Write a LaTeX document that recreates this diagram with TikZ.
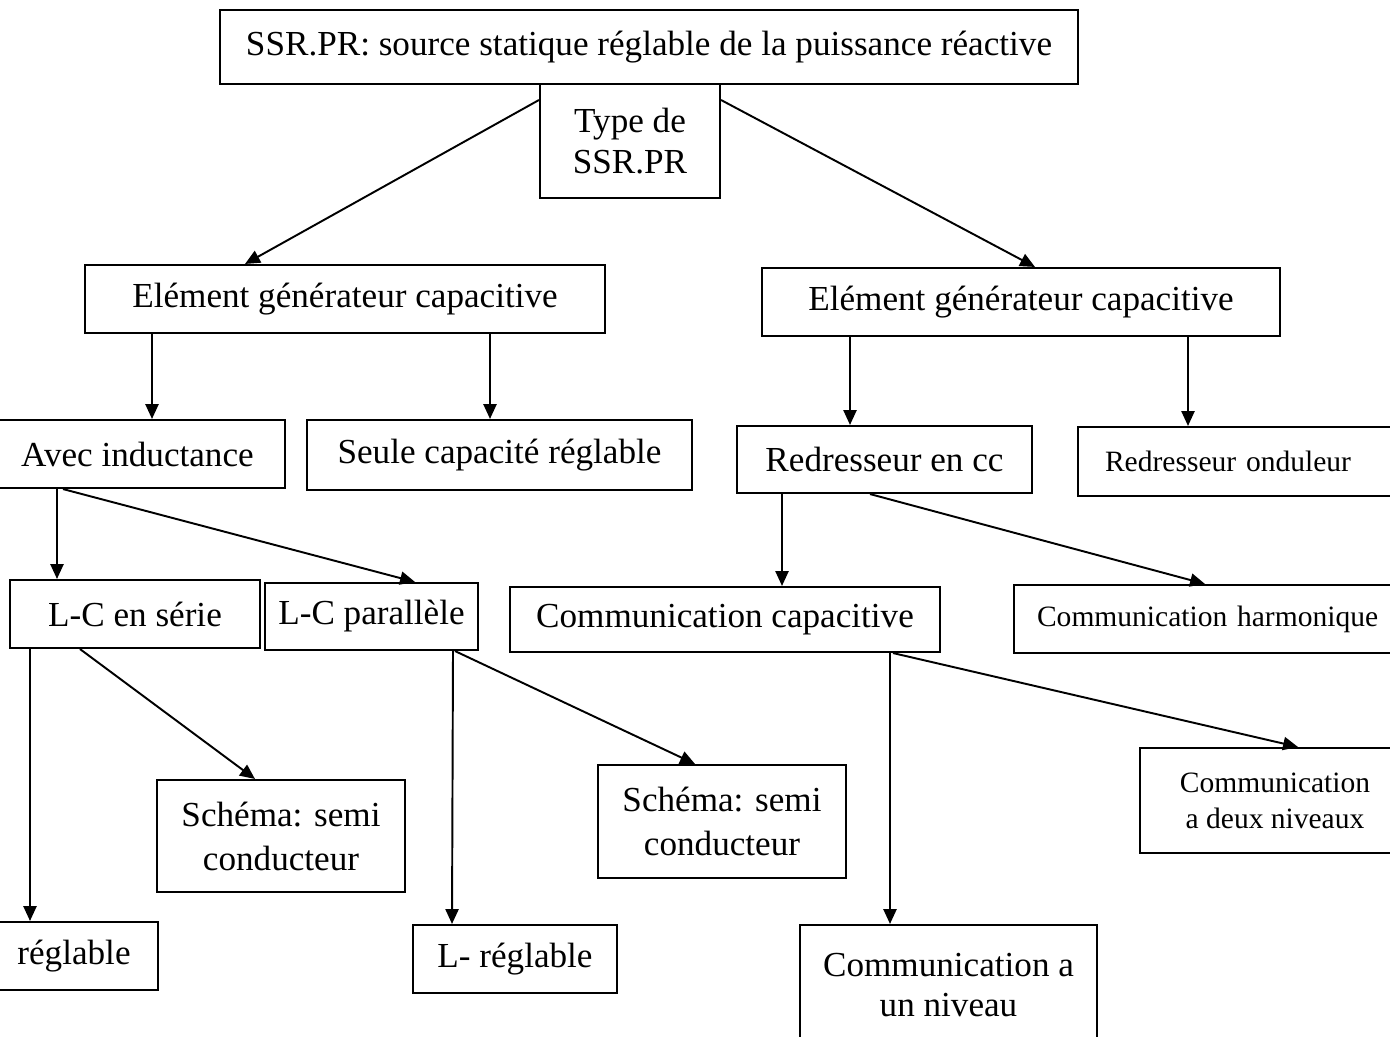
\documentclass[tikz,border=0pt]{standalone}
\usepackage{fontspec}
\setmainfont{Liberation Serif}
\usetikzlibrary{arrows.meta}
\tikzset{
  box/.style={draw, line width=1.2pt, inner sep=0pt, align=center,
    font=\fontsize{20}{23}\selectfont},
  smallbox/.style={box, font=\fontsize{16.8}{20.5}\selectfont},
  cutbox/.style={smallbox, anchor=west, align=left, text width=9cm, inner xsep=0.5cm},
  arr/.style={line width=1.1pt, -{Triangle[length=8.5pt,width=7.5pt]}}
}
\begin{document}
\begin{tikzpicture}[x=0.02cm, y=-0.02cm]
  \useasboundingbox (0,0) rectangle (1390,1036);
  \clip (0,0) rectangle (1390,1036);

  \node[box, minimum width=17.16cm, minimum height=1.48cm] (titre) at (649,47)
    {SSR.PR: source statique réglable de la puissance réactive};
  \node[box, minimum width=3.6cm, minimum height=2.28cm] (type) at (630,141)
    {Type de\\SSR.PR};

  \node[box, minimum width=10.4cm, minimum height=1.36cm] (elemG) at (345,299)
    {Elément générateur capacitive};
  \node[box, minimum width=10.36cm, minimum height=1.36cm] (elemD) at (1021,302)
    {Elément générateur capacitive};

  \node[box, minimum width=5.9cm, minimum height=1.36cm] (avec) at (137.5,454)
    {Avec inductance};
  \node[box, minimum width=7.7cm, minimum height=1.4cm] (seule) at (499.5,455)
    {Seule capacité réglable};
  \node[box, minimum width=5.9cm, minimum height=1.34cm] (redcc) at (884.5,459.5)
    {Redresseur en cc};
  \node[cutbox, inner xsep=0.54cm, minimum height=1.38cm] (redond) at (1077,461.5)
    {Redresseur onduleur};

  \node[box, minimum width=5cm, minimum height=1.36cm] (lcserie) at (135,614)
    {L-C en série};
  \node[box, minimum width=4.26cm, minimum height=1.34cm] (lcpar) at (371.5,616.5)
    {L-C parallèle};
  \node[box, minimum width=8.6cm, minimum height=1.3cm] (commcap) at (725,619.5)
    {Communication capacitive};
  \node[cutbox, inner xsep=0.46cm, minimum height=1.36cm] (commharm) at (1013,619)
    {Communication harmonique};

  \node[box, minimum width=4.96cm, minimum height=2.24cm, font=\fontsize{20}{25}\selectfont] (schemaG) at (281,836)
    {Schéma: semi\\conducteur};
  \node[box, minimum width=3.36cm, minimum height=1.36cm] (reglable) at (74,956)
    {réglable};
  \node[box, minimum width=4.08cm, minimum height=1.36cm] (lreg) at (515,959)
    {L- réglable};
  \node[box, minimum width=4.96cm, minimum height=2.26cm, font=\fontsize{20}{25}\selectfont] (schemaD) at (722,821.5)
    {Schéma: semi\\conducteur};
  \node[smallbox, minimum width=5.4cm, minimum height=2.1cm] (deuxniv) at (1275,800.5)
    {Communication\\a deux niveaux};
  \node[box, minimum width=5.94cm, minimum height=2.4cm] (unniv) at (948.5,985)
    {Communication a\\un niveau};

  \draw[arr] (type.west |- 0,100) -- (elemG.north -| 245,0);
  \draw[arr] (type.east |- 0,100) -- (elemD.north -| 1035,0);
  \draw[arr] (elemG.south -| 152,0) -- (avec.north -| 152,0);
  \draw[arr] (elemG.south -| 490,0) -- (seule.north -| 490,0);
  \draw[arr] (elemD.south -| 850,0) -- (redcc.north -| 850,0);
  \draw[arr] (elemD.south -| 1188,0) -- (redond.north -| 1188,0);
  \draw[arr] (avec.south -| 57,0) -- (lcserie.north -| 57,0);
  \draw[arr] (avec.south -| 63,0) -- (lcpar.north -| 415,0);
  \draw[arr] (redcc.south -| 782,0) -- (commcap.north -| 782,0);
  \draw[arr] (redcc.south -| 870,0) -- (commharm.north -| 1205,0);
  \draw[arr] (lcserie.south -| 30,0) -- (reglable.north -| 30,0);
  \draw[arr] (lcserie.south -| 80,0) -- (schemaG.north -| 255,0);
  \draw[arr] (lcpar.south -| 453,0) -- (lreg.north -| 452,0);
  \draw[arr] (lcpar.south -| 455,0) -- (schemaD.north -| 695,0);
  \draw[arr] (commcap.south -| 890,0) -- (unniv.north -| 890,0);
  \draw[arr] (commcap.south -| 893,0) -- (deuxniv.north -| 1298,0);
\end{tikzpicture}
\end{document}
